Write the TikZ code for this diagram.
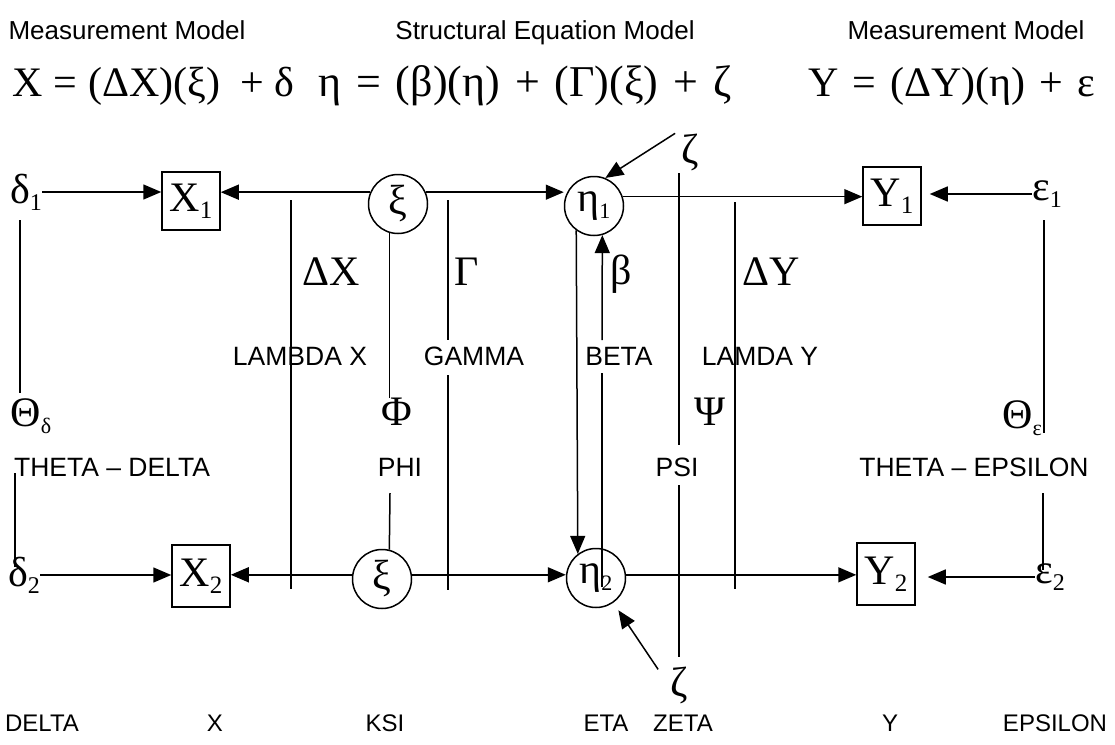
\documentclass[tikz,border=0pt]{standalone}
\usepackage{fontspec}
\setmainfont{Liberation Serif}
\newfontfamily\lsans{Liberation Sans}
\usetikzlibrary{arrows.meta}
\newcommand\lo[2][25]{\raisebox{-7pt}{\fontsize{#1}{#1}\selectfont #2}}
\newcommand\wsp[1][14pt]{\hspace{#1}}
\tikzset{
  sym/.style={font=\fontsize{42}{46}\selectfont, inner sep=0pt},
  lab/.style={font=\lsans\fontsize{26.5}{30}\selectfont, inner sep=0pt},
  blab/.style={font=\lsans\fontsize{24}{28}\selectfont, inner sep=0pt},
  head/.style={font=\lsans\fontsize{26}{28}\selectfont, inner sep=0pt, anchor=base},
  eqn/.style={font=\fontsize{42}{46}\selectfont, inner sep=0pt, anchor=base west},
  boxnode/.style={draw, line width=1.5pt, minimum width=58pt, minimum height=58pt, inner sep=0pt, font=\fontsize{42}{44}\selectfont},
  circnode/.style={draw, circle, line width=1.5pt, minimum size=59pt, inner sep=0pt, font=\fontsize{42}{44}\selectfont},
  ln/.style={line width=1.5pt},
  arr/.style={line width=1.5pt, -{Triangle[length=18pt,width=15pt]}},
}
\begin{document}
\begin{tikzpicture}[x=1pt,y=-1pt]
\path[use as bounding box, fill=white] (0,0) rectangle (1115,744);

% headings and equations
\node[head] (h1) at (127,39) {Measurement Model};
\node[head] (h2) at (545,39) {Structural Equation Model};
\node[head] (h3) at (966,39) {Measurement Model};
\node[eqn] (e1q) at (12,96) {X\wsp[11pt]=\wsp[11pt](ΔX)(ξ)\wsp[20pt]+\wsp[11pt]δ};
\node[eqn, font=\fontsize{44}{48}\selectfont] (e2q) at (318,96) {η\wsp[15pt]=\wsp[15pt](β)(η)\wsp[15pt]+\wsp[15pt](Γ)(ξ)\wsp[15pt]+\wsp[15pt]ζ};
\node[eqn] (e3q) at (808,96) {Y\wsp[14pt]=\wsp[14pt](ΔY)(η)\wsp[14pt]+\wsp[14pt]ε};

% main nodes
\node[sym] (d1) at (26,192) {δ\lo[24]{1}};
\node[boxnode] (X1) at (191,201) {X\lo{1}};
\node[circnode] (xi1) at (398,204) {ξ};
\node[circnode] (eta1) at (594,206) {η\lo[22]{1}};
\node[boxnode] (Y1) at (892,196) {Y\lo{1}};
\node[sym] (e1) at (1047,194) {ε\lo[24]{1}};
\node[sym] (d2) at (24,575) {δ\lo[24]{2}};
\node[boxnode, minimum height=62pt] (X2) at (201,576) {X\lo{2}};
\node[circnode] (xi2) at (382,579) {ξ};
\node[circnode] (eta2) at (596,578) {η\lo[22]{2}};
\node[boxnode, minimum height=62pt] (Y2) at (886,574) {Y\lo{2}};
\node[sym] (e2) at (1050,577) {ε\lo[24]{2}};
\node[sym] (z1) at (690,152) {ζ};
\node[sym] (z2) at (679,685) {ζ};

% symbol labels
\node[sym] (lx) at (331,272) {ΔX};
\node[sym] (gam) at (467,272) {Γ};
\node[sym] (bet) at (621,274) {β};
\node[sym] (ly) at (771,272) {ΔY};
\node[sym] (phi) at (397,412) {Φ};
\node[sym] (psi) at (710,412) {Ψ};
\node[sym] (thd) at (31,416) {Θ\lo[22]{δ}};
\node[sym] (the) at (1022,418) {Θ\lo[22]{ε}};

% word labels
\node[lab] (LX) at (300,356) {LAMBDA X};
\node[lab] (GA) at (474,356) {GAMMA};
\node[lab] (BE) at (619,356) {BETA};
\node[lab] (LY) at (760,356) {LAMDA Y};
\node[lab] (PH) at (400,467) {PHI};
\node[lab] (PS) at (677,467) {PSI};
\node[lab] (TD) at (112,467) {THETA – DELTA};
\node[lab] (TE) at (974,467) {THETA – EPSILON};

% bottom labels
\node[blab] (bD) at (42,723) {DELTA};
\node[blab] (bX) at (215,723) {X};
\node[blab] (bK) at (385,723) {KSI};
\node[blab] (bE) at (606,723) {ETA};
\node[blab] (bZ) at (683,723) {ZETA};
\node[blab] (bY) at (890,723) {Y};
\node[blab] (bP) at (1055,723) {EPSILON};

% horizontal connectors
\draw[arr] (d1.east) -- (d1.east -| X1.west);
\draw[arr] (xi1.157) -- (xi1.157 -| X1.east);
\draw[arr] (xi1.23) -- (xi1.23 -| eta1.west);
\draw[arr] (eta1.18) -- (eta1.18 -| Y1.west);
\draw[arr, shorten >=8pt] (e1.west) -- (e1.west -| Y1.east);
\draw[arr] (d2.east) -- (d2.east -| X2.west);
\draw[arr] (xi2.172) -- (xi2.172 -| X2.east);
\draw[arr] (xi2.8) -- (xi2.8 -| eta2.west);
\draw[arr] (eta2.6) -- (eta2.6 -| Y2.west);
\draw[arr, shorten >=12pt] (e2.west) -- (e2.west -| Y2.east);

% eta links
\draw[arr] (eta1.234) -- (eta2.127);
\coordinate (bb) at (602,587);
\coordinate (bgap1) at (602,373);
\coordinate (bgap2) at (602,340);
\draw[ln] (bb) -- (bgap1);
\draw[arr] (bgap2) -- (eta1.286);

% zeta arrows
\draw[arr] ([xshift=-6pt]z1.north west) -- (eta1.68);
\draw[arr, shorten >=9pt] ([xshift=-12pt,yshift=-3pt]z2.north west) -- (eta2.-55);

% phi
\draw[ln] (xi1.254) -- (xi1.254 |- phi.north);
\coordinate (phB) at (390,493);
\draw[ln] (phB) -- (xi2.76);

% parameter span lines
\coordinate (lxT) at (291,200); \coordinate (lxB) at (291,589);
\draw[ln] (lxT) -- (lxB);
\coordinate (gT) at (448,200); \coordinate (gM1) at (448,340);
\coordinate (gM2) at (448,375); \coordinate (gB) at (448,590);
\draw[ln] (gT) -- (gM1); \draw[ln] (gM2) -- (gB);
\coordinate (lyT) at (735,202); \coordinate (lyB) at (735,589);
\draw[ln] (lyT) -- (lyB);
\coordinate (pT) at (679,173); \coordinate (pM1) at (679,445);
\coordinate (pM2) at (679,485); \coordinate (pB) at (679,657);
\draw[ln] (pT) -- (pM1); \draw[ln] (pM2) -- (pB);

% theta-delta
\coordinate (tdA) at (20,220); \coordinate (tdB) at (20,393);
\draw[ln] (tdA) -- (tdB);
\coordinate (tdC) at (15,473); \coordinate (tdD) at (15,567);
\draw[ln] (tdC) -- (tdD);
% theta-epsilon
\coordinate (teA) at (1044,220); \coordinate (teB) at (1044,433);
\draw[ln] (teA) -- (teB);
\coordinate (teC) at (1043,493); \coordinate (teD) at (1043,570);
\draw[ln] (teC) -- (teD);
\end{tikzpicture}
\end{document}
